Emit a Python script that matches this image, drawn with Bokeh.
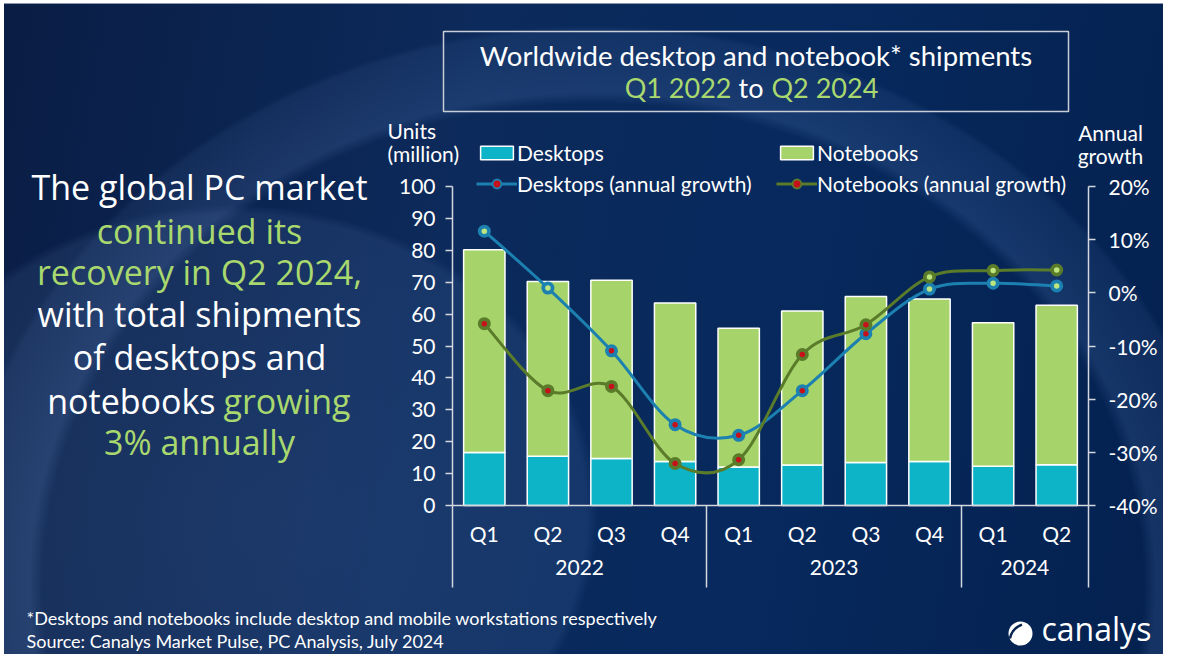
import math
from bokeh.plotting import figure
from bokeh.models import Range1d, LinearAxis, FixedTicker, Label, Legend, LegendItem
from bokeh.embed import file_html
from bokeh.resources import INLINE

# ---------------- data ----------------
quarters = ["Q1", "Q2", "Q3", "Q4", "Q1", "Q2", "Q3", "Q4", "Q1", "Q2"]
years = ["2022", "2023", "2024"]
year_quarters = [4, 4, 2]
desktops = [16.6, 15.4, 14.7, 13.8, 12.1, 12.7, 13.5, 13.8, 12.3, 12.8]
notebooks = [63.6, 54.8, 55.9, 49.7, 43.5, 48.3, 52.0, 50.9, 45.0, 50.0]
desktop_growth = [11.6, 0.9, -10.9, -24.8, -26.8, -18.4, -7.7, 0.7, 1.8, 1.3]
notebook_growth = [-5.8, -18.4, -17.6, -32.1, -31.4, -11.6, -6.0, 3.0, 4.2, 4.3]
units_ticks = list(range(0, 101, 10))
growth_ticks = list(range(-40, 21, 10))

# ---------------- layout ----------------
W, H = 1163, 654
OY = 8                                    # vertical shift so the whole fits
PL, PR, PB, PT = 452, 1088, 513 - OY, 194 - OY
n = len(quarters)
xs = (PR - PL) / n
ys = (PB - PT) / 100.0
ps = (PB - PT) / 60.0
x_start = -PL / xs
x_end = x_start + W / xs
y_end = 100 + PT / ys
y_start = y_end - H / ys
p_end = 20 + PT / ps
p_start = p_end - H / ps

def dx(px):
    return x_start + px / xs

def dy(py):
    return y_end - (py - OY) / ys

WHITE = "#ffffff"
GREEN_TXT = "#a9d86e"
DESK_BAR = "#0db4c8"
NOTE_BAR = "#a6d46b"
DESK_LINE = "#1c80b0"
NOTE_LINE = "#5a7c2a"
RED = "#c8101a"
DOT_GREEN = "#bde57f"
AX = "#d4d8de"
FONT = "Lato"
BIG = "Open Sans"

bg = ", ".join([
    "linear-gradient(#ffffff, #ffffff) 0 0 / 100% 3px no-repeat",
    "linear-gradient(#ffffff, #ffffff) 0 0 / 4px 100% no-repeat",
    "linear-gradient(#8a97ad, #8a97ad) 0 3px / 100% 1px no-repeat",
    "radial-gradient(ellipse 365px 310px at 233px 515px, rgba(120,160,220,0.15) 0%, rgba(120,160,220,0.11) 97%, rgba(0,0,0,0) 100%)",
    "radial-gradient(ellipse 640px 560px at 593px 585px, rgba(0,0,0,0) 0%, rgba(0,0,0,0) 86%, rgba(120,160,225,0.15) 88%, rgba(120,160,225,0.08) 99%, rgba(0,0,0,0) 100%)",
    "linear-gradient(100deg, #0a1d44 0%, #0c2a5b 38%, #07295d 65%, #04214f 100%)",
])

p = figure(width=W, height=H, x_range=Range1d(x_start, x_end), y_range=Range1d(y_start, y_end),
           output_backend="svg", toolbar_location=None, min_border=0,
           x_axis_location=None, y_axis_location=None,
           border_fill_color=None, background_fill_color=None, outline_line_color=None)
p.styles = {"background": bg}
p.extra_y_ranges = {"pct": Range1d(p_start, p_end)}
p.xgrid.visible = False
p.ygrid.visible = False

centers = [i + 0.5 for i in range(n)]

# bars
tops = [d + nb for d, nb in zip(desktops, notebooks)]
r_desk = p.vbar(x=centers, width=0.65, bottom=0, top=desktops,
                fill_color=DESK_BAR, line_color=WHITE, line_width=1.5)
r_note = p.vbar(x=centers, width=0.65, bottom=desktops, top=tops,
                fill_color=NOTE_BAR, line_color=WHITE, line_width=1.5)

# smoothed growth lines (Catmull-Rom as Bezier segments)
def bez(vals):
    m = len(vals)
    out = {k: [] for k in ["x0", "y0", "x1", "y1", "cx0", "cy0", "cx1", "cy1"]}
    for i in range(m - 1):
        a, b = i, i + 1
        pm = max(i - 1, 0)
        pp = min(i + 2, m - 1)
        out["x0"].append(centers[a]); out["y0"].append(vals[a])
        out["x1"].append(centers[b]); out["y1"].append(vals[b])
        out["cx0"].append(centers[a] + (centers[b] - centers[pm]) / 6)
        out["cy0"].append(vals[a] + (vals[b] - vals[pm]) / 6)
        out["cx1"].append(centers[b] - (centers[pp] - centers[a]) / 6)
        out["cy1"].append(vals[b] - (vals[pp] - vals[a]) / 6)
    return out

def series(vals, color):
    line = p.bezier(**bez(vals), y_range_name="pct", line_color=color, line_width=3)
    ring = p.scatter(x=centers, y=vals, y_range_name="pct", size=9,
                     fill_color=color, line_color=color, line_width=4)
    neg = [(c, v) for c, v in zip(centers, vals) if v < 0]
    pos = [(c, v) for c, v in zip(centers, vals) if v >= 0]
    rd = p.scatter(x=[c for c, _ in neg], y=[v for _, v in neg], y_range_name="pct",
                   size=5.5, fill_color=RED, line_color=None)
    p.scatter(x=[c for c, _ in pos], y=[v for _, v in pos], y_range_name="pct",
              size=5.5, fill_color=DOT_GREEN, line_color=None)
    return [line, ring, rd]

r_dg = series(desktop_growth, DESK_LINE)
r_ng = series(notebook_growth, NOTE_LINE)

# axes
def style(ax):
    ax.axis_line_color = AX
    ax.axis_line_width = 1.5
    ax.major_tick_line_color = AX
    ax.major_tick_line_width = 1.5
    ax.minor_tick_line_color = None
    ax.major_tick_in = 0
    ax.major_label_text_color = WHITE
    ax.major_label_text_font = FONT
    ax.major_label_text_font_size = "21px"

yax = LinearAxis(fixed_location=0, bounds=(0, 100), ticker=FixedTicker(ticks=units_ticks))
style(yax)
yax.major_tick_out = 7
yax.major_label_standoff = 10
p.add_layout(yax, "left")

rax = LinearAxis(fixed_location=n, bounds=(-40, 20), y_range_name="pct",
                 ticker=FixedTicker(ticks=growth_ticks),
                 major_label_overrides={t: f"{t}%" for t in growth_ticks})
style(rax)
rax.major_tick_out = 7
rax.major_label_standoff = 13
p.add_layout(rax, "right")

qax = LinearAxis(fixed_location=0, bounds=(0, n), ticker=FixedTicker(ticks=centers),
                 major_label_overrides={c: q for c, q in zip(centers, quarters)})
style(qax)
qax.major_tick_out = 0
qax.major_tick_line_color = None
qax.major_label_standoff = 15
p.add_layout(qax, "below")

bounds = [0]
for k in year_quarters:
    bounds.append(bounds[-1] + k)
ycent = [(bounds[i] + bounds[i + 1]) / 2 for i in range(len(years))]

sep = LinearAxis(fixed_location=0, bounds=(0, n), ticker=FixedTicker(ticks=bounds))
style(sep)
sep.axis_line_color = None
sep.major_tick_out = 82
sep.major_label_text_alpha = 0
p.add_layout(sep, "below")

yrax = LinearAxis(fixed_location=0, bounds=(0, n), ticker=FixedTicker(ticks=ycent),
                  major_label_overrides={c: y for c, y in zip(ycent, years)})
style(yrax)
yrax.axis_line_color = None
yrax.major_tick_out = 0
yrax.major_tick_line_color = None
yrax.major_label_standoff = 54
p.add_layout(yrax, "below")

# legend
legend = Legend(items=[
    LegendItem(label="Desktops", renderers=[r_desk]),
    LegendItem(label="Notebooks", renderers=[r_note]),
    LegendItem(label="Desktops (annual growth)", renderers=r_dg),
    LegendItem(label="Notebooks (annual growth)", renderers=r_ng),
], location=(476, H - (204 - OY)), orientation="horizontal", ncols=2,
    glyph_width=41, glyph_height=17, label_standoff=0, label_width=253, spacing=6,
    padding=0, margin=0, background_fill_color=None, border_line_color=None,
    label_text_color=WHITE, label_text_font=FONT, label_text_font_size="21px")
p.add_layout(legend)

# texts
def lab(px, py, text, color=WHITE, size="21px", font=FONT, align="left"):
    p.add_layout(Label(x=dx(px), y=dy(py), text=text, text_color=color, text_font=font,
                       text_font_size=size, text_align=align, text_baseline="middle"))

lab(387, 138, "Units")
lab(387, 161, "(million)")
lab(1110, 140, "Annual", align="center")
lab(1110, 163, "growth", align="center")

# title box
p.quad(left=dx(443), right=dx(1068), top=dy(39), bottom=dy(119),
       fill_color=None, line_color="#c9ced6", line_width=1.5)
lab(755.5, 63, "Worldwide desktop and notebook* shipments", size="27.5px", align="center")
lab(731, 95, "Q1 2022", color=GREEN_TXT, size="27px", align="right")
lab(750.5, 95, "to", size="27px", align="center")
lab(771, 95, "Q2 2024", color=GREEN_TXT, size="27px", align="left")

# left message
msg = [
    (194, "The global PC market", WHITE),
    (238, "continued its", GREEN_TXT),
    (279, "recovery in Q2 2024,", GREEN_TXT),
    (321, "with total shipments", WHITE),
    (364, "of desktops and", WHITE),
    (449, "3% annually", GREEN_TXT),
]
for py, t, c in msg:
    lab(199, py, t, color=c, size="34px", font=BIG, align="center")
lab(215, 408, "notebooks", color=WHITE, size="34px", font=BIG, align="right")
lab(223, 408, "growing", color=GREEN_TXT, size="34px", font=BIG, align="left")

# footnotes
lab(26, 625, "*Desktops and notebooks  include desktop and mobile workstations respectively", size="18px")
lab(26, 648, "Source: Canalys Market Pulse, PC Analysis, July 2024", size="18px")

# logo
p.circle(x=dx(1020), y=dy(641), radius=12, radius_units="screen", fill_color=WHITE, line_color=None)
p.arc(x=dx(1028), y=dy(650), radius=19, radius_units="screen", start_angle=math.radians(110),
      end_angle=math.radians(168), line_color="#0a2452", line_width=2.5)
lab(1041, 636, "canalys", size="32px", font=BIG)

open("out.html", "w").write(file_html(p, INLINE))
